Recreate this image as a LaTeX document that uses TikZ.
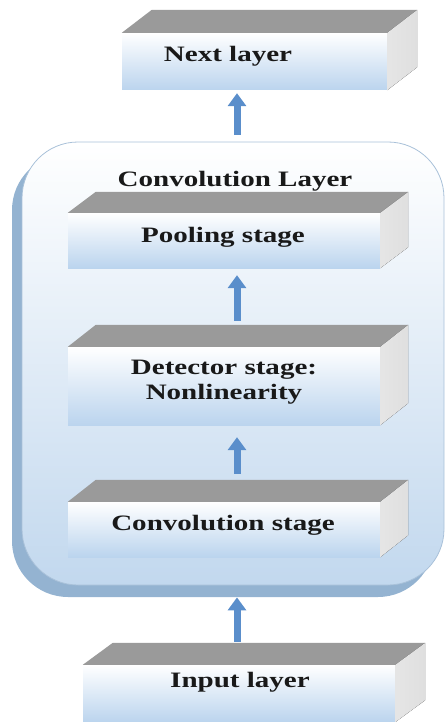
\documentclass[tikz,border=0pt]{standalone}
\usepackage{fontspec}
\setmainfont{Liberation Serif}[FakeStretch=1.32]
\usetikzlibrary{arrows.meta,calc,shadows}

\definecolor{flowblue}{HTML}{5A8ECB}
\definecolor{faceblue}{HTML}{BBD4EE}
\definecolor{topgray}{HTML}{9A9A9A}
\definecolor{sidegray}{HTML}{DFDFDF}
\definecolor{panelblue}{HTML}{C2D8EE}
\definecolor{panelshadow}{HTML}{94B3D1}
\definecolor{paneledge}{HTML}{A9C1D9}

% front, top and side faces of a stage block; #2,#3 = depth of the block
\newcommand\blockfaces[3]{%
  \fill[topface] (#1.north west) -- (#1.north east) -- ++(#2,-#3)
    -- ($(#1.north west)+(#2,-#3)$) -- cycle;
  \fill[sideface] (#1.north east) -- ++(#2,-#3)
    -- ($(#1.south east)+(#2,-#3)$) -- (#1.south east) -- cycle;
  \coordinate (#1-back) at ($(#1.north)+(#2,-#3)$);
}

\begin{document}
\begin{tikzpicture}[x=1pt,y=-1pt,
  front/.style={rectangle, inner sep=0pt, draw=none,
    top color=white, middle color=white!65!faceblue, bottom color=faceblue},
  topface/.style={fill=topgray},
  sideface/.style={left color=sidegray!80!white, right color=sidegray},
  panel/.style={rectangle, rounded corners=56pt, inner sep=0pt,
    top color=white, middle color=white!55!panelblue, bottom color=panelblue,
    draw=paneledge, line width=0.8pt,
    drop shadow={shadow xshift=-10pt, shadow yshift=-12pt,
      fill=panelshadow, opacity=1}},
  label/.style={font=\bfseries\fontsize{22}{25}\selectfont, inner sep=0pt,
    text=black!90, align=center},
  flow/.style={draw=flowblue, line width=7pt,
    -{Triangle[width=18pt,length=13pt]}}]

\useasboundingbox (0,0) rectangle (446,722);
\coordinate (ax) at (237,0);

% next layer
\node[front, minimum width=265, minimum height=57] (next) at (254.5,61.5) {};
\blockfaces{next}{30}{23}
\node[label, anchor=base] (nextlbl) at (228,62) {Next layer};

% convolution layer panel
\node[panel, minimum width=422, minimum height=443] (conv) at (233,363.5) {};
\node[label, anchor=base] (convlbl) at (235,186) {Convolution Layer};

% pooling stage
\node[front, minimum width=312, minimum height=55] (pool) at (224,240.5) {};
\blockfaces{pool}{28}{21}
\node[label, anchor=base] (poollbl) at (223,242) {Pooling stage};

% detector stage
\node[front, minimum width=312, minimum height=78] (det) at (224,386) {};
\blockfaces{det}{28}{22}
\node[label] (detlbl) at (224,382.5) {Detector stage:\\Nonlinearity};

% convolution stage
\node[front, minimum width=312, minimum height=55] (cst) at (224,529.5) {};
\blockfaces{cst}{28}{22}
\node[label, anchor=base] (cstlbl) at (223,530) {Convolution stage};

% input layer
\node[front, minimum width=312, minimum height=57] (inp) at (239,693.5) {};
\blockfaces{inp}{30}{22}
\node[label, anchor=base] (inplbl) at (240,687) {Input layer};

% data flow
\draw[flow, shorten >=3pt] ($(ax |- conv.north)+(0,-7)$) -- (ax |- next.south);
\draw[flow, shorten <=4pt, shorten >=7pt] (ax |- det-back) -- (ax |- pool.south);
\draw[flow, shorten <=6pt, shorten >=12pt] (ax |- cst-back) -- (ax |- det.south);
\draw[flow, shorten <=1pt] (ax |- inp-back) -- ($(ax |- conv.south)+(0,12)$);
\end{tikzpicture}
\end{document}
